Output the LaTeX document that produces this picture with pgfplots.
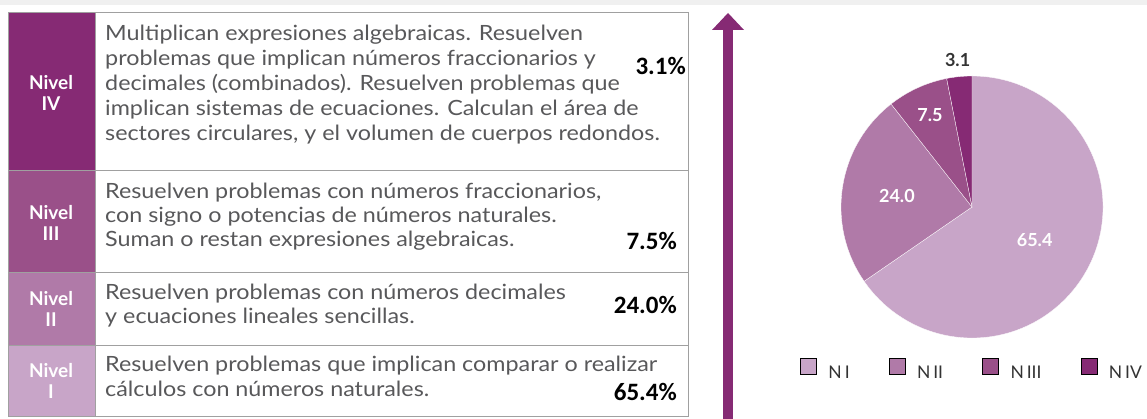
\documentclass[border=0pt]{standalone}
\usepackage{pgfplots}
\pgfplotsset{compat=1.18}
\usepackage{fontspec}
\setmainfont{Lato}
\newfontfamily\descfont[FakeStretch=1.11]{Lato}
\newfontfamily\calibri{Carlito}
\definecolor{cIV}{HTML}{862A74}
\definecolor{cIII}{HTML}{9A5089}
\definecolor{cII}{HTML}{B07AA8}
\definecolor{cI}{HTML}{C8A5C8}
\definecolor{txt}{HTML}{58585A}
\definecolor{rule}{HTML}{A0A0A0}
\definecolor{lab}{HTML}{333333}
\begin{document}
\begin{tikzpicture}[x=1pt,y=-1pt]
\useasboundingbox (0,0) rectangle (1147,419);
\fill[gray!12] (0,0) rectangle (1147,5);
% level cells
\fill[cIV] (8,13) rectangle (95,171);
\fill[cIII] (8,171) rectangle (95,273);
\fill[cII] (8,273) rectangle (95,345);
\fill[cI] (8,345) rectangle (95,416);
\draw[rule, line width=1pt] (8,13) rectangle (688,416);
\draw[rule, line width=1pt] (8,171) -- (688,171) (8,273) -- (688,273) (8,345) -- (688,345) (95,13) -- (95,416);
\tikzset{niv/.style={text=white, font=\fontsize{19}{21}\selectfont\bfseries, align=center, inner sep=0pt}}
\node[niv] at (51,93) {Nivel\\IV};
\node[niv] at (51,223) {Nivel\\III};
\node[niv] at (51,309) {Nivel\\II};
\node[niv] at (51,381) {Nivel\\I};
\tikzset{desc/.style={text=txt, font=\descfont\fontsize{21}{25}\selectfont, anchor=base west, inner sep=0pt}}
\node[desc] at (105,41) {Multiplican expresiones algebraicas. Resuelven};
\node[desc] at (105,66) {problemas que implican números fraccionarios y};
\node[desc] at (105,91) {decimales (combinados). Resuelven problemas que};
\node[desc] at (105,116) {implican sistemas de ecuaciones. Calculan el área de};
\node[desc] at (105,141) {sectores circulares, y el volumen de cuerpos redondos.};
\node[desc] at (105,199) {Resuelven problemas con números fraccionarios,};
\node[desc] at (105,223) {con signo o potencias de números naturales.};
\node[desc] at (105,247) {Suman o restan expresiones algebraicas.};
\node[desc] at (105,299) {Resuelven problemas con números decimales};
\node[desc] at (105,323) {y ecuaciones lineales sencillas.};
\node[desc] at (105,371) {Resuelven problemas que implican comparar o realizar};
\node[desc] at (105,396) {cálculos con números naturales.};
\tikzset{pct/.style={text=black, font=\calibri\bfseries\fontsize{25}{28}\selectfont, anchor=base east, inner sep=0pt}}
\node[pct] at (686,75) {3.1\%};
\node[pct] at (677,250) {7.5\%};
\node[pct] at (677,313) {24.0\%};
\node[pct] at (677,400) {65.4\%};
% arrow
\fill[cIV] (723,29) rectangle (733,419);
\fill[cIV] (712,30) -- (728,13) -- (744,30) -- cycle;
% pie
\begin{axis}[at={(972pt,-207pt)}, anchor=center, x=131pt, y=131pt,
  xmin=-1.3, xmax=1.3, ymin=-1.3, ymax=1.3, hide axis, clip=false,
  legend columns=4,
  legend style={at={(axis description cs:0.5,0.0215)}, anchor=center, draw=none, fill=none,
    font=\fontsize{17.5}{20}\selectfont, text=lab, inner sep=0pt,
    /tikz/every odd column/.append style={column sep=10pt},
    /tikz/every even column/.append style={column sep=37pt}},
  legend image code/.code={\fill[#1] (0pt,-1pt) rectangle (16pt,15pt);}]
\addlegendimage{fill=cI}\addlegendentry{N\,I}
\addlegendimage{fill=cII}\addlegendentry{N\,II}
\addlegendimage{fill=cIII}\addlegendentry{N\,III}
\addlegendimage{fill=cIV}\addlegendentry{N\,IV}
\pgfplotsextra{
\foreach \v/\c/\r/\tc [remember=\e as \s (initially 90)] in {65.4/cI/0.54/white, 24.0/cII/0.58/white, 7.5/cIII/0.77/white, 3.1/cIV/1.13/lab}{
  \pgfmathsetmacro\e{\s-3.6*\v}
  \pgfmathsetmacro\m{(\s+\e)/2}
  \fill[\c, draw=white, line width=0.3pt] (axis cs:0,0) -- (axis cs:{cos(\s)},{sin(\s)}) arc[start angle=\s, end angle=\e, radius=131pt] -- cycle;
  \node[text=\tc, font=\fontsize{18}{20}\selectfont\bfseries] at (axis cs:{\r*cos(\m)},{\r*sin(\m)}) {\v};
}}
\end{axis}
\end{tikzpicture}
\end{document}
